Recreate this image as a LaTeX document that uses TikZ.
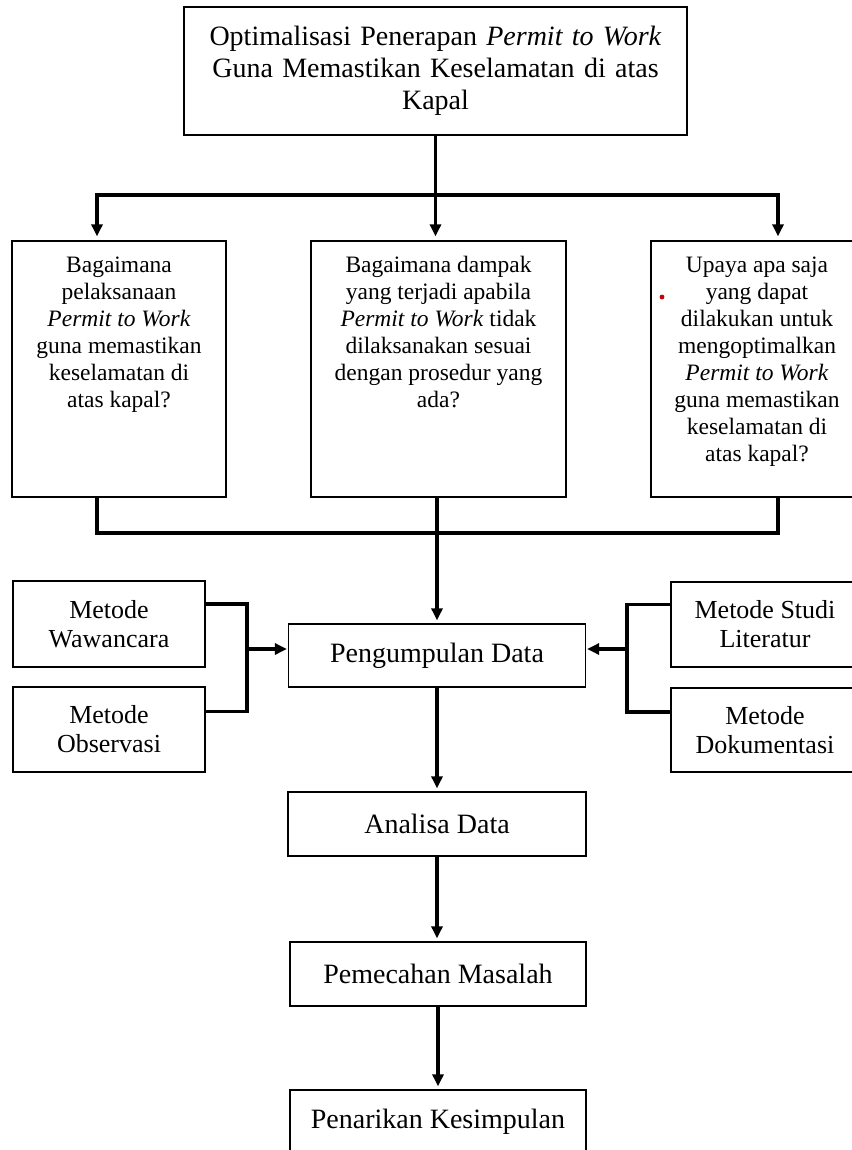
\documentclass[tikz,border=0pt]{standalone}
\usepackage{fontspec}
\setmainfont{Liberation Serif}
\usetikzlibrary{arrows.meta}
\usetikzlibrary{calc}

\tikzset{
  box/.style={draw, line width=1.3pt, inner sep=0pt, align=center},
  qtext/.style={inner sep=0pt, align=center, font=\fontsize{23.5}{27}\selectfont},
  conn/.style={line width=3.2pt, line cap=rect},
  arr/.style={line width=3.2pt, -{Triangle[length=12pt,width=11pt]}},
}

\begin{document}
\begin{tikzpicture}[x=1pt,y=-1pt]
        \useasboundingbox (0,0) rectangle (851,1150);
        % judul
        \node[box, minimum width=503pt, minimum height=128pt, text width=495pt, font=\fontsize{28}{32}\selectfont] (judul) at (435.5,71) {Optimalisasi Penerapan \textit{Permit to Work}\\Guna Memastikan Keselamatan di atas\\Kapal};
        % rumusan masalah
        \node[box, minimum width=214pt, minimum height=256pt] (tanya1) at (119,369) {};
        \node[box, minimum width=255pt, minimum height=256pt] (tanya2) at (438.5,369) {};
        \node[box, minimum width=212pt, minimum height=256pt] (tanya3) at (757,369) {};
        \node[qtext, anchor=north] (teks1) at ($(tanya1.north)+(0,16)$) {Bagaimana\\pelaksanaan\\\textit{Permit to Work}\\guna memastikan\\keselamatan di\\atas kapal?};
        \node[qtext, anchor=north] (teks2) at ($(tanya2.north)+(0,16)$) {Bagaimana dampak\\yang terjadi apabila\\\textit{Permit to Work} tidak\\dilaksanakan sesuai\\dengan prosedur yang\\ada?};
        \node[qtext, anchor=north] (teks3) at ($(tanya3.north)+(0,16)$) {Upaya apa saja\\yang dapat\\dilakukan untuk\\mengoptimalkan\\\textit{Permit to Work}\\guna memastikan\\keselamatan di\\atas kapal?};
        \fill[red!80!black] (662,297) circle (2.4pt);
        % metode
        \node[box, minimum width=192pt, minimum height=86pt, font=\fontsize{26}{29}\selectfont] (wawancara) at (109,624) {Metode\\Wawancara};
        \node[box, minimum width=192pt, minimum height=85pt, font=\fontsize{26}{29}\selectfont] (observasi) at (109,729.5) {Metode\\Observasi};
        \node[box, minimum width=188pt, minimum height=85pt, font=\fontsize{26}{29}\selectfont] (literatur) at (765,624.5) {Metode Studi\\Literatur};
        \node[box, minimum width=188pt, minimum height=84pt, font=\fontsize{26}{29}\selectfont] (dokumentasi) at (765,730) {Metode\\Dokumentasi};
        % alur
        \node[box, minimum width=297pt, minimum height=63pt, font=\fontsize{28}{32}\selectfont] (data) at (437,655.5) {Pengumpulan Data};
        \node[box, minimum width=298pt, minimum height=64pt, font=\fontsize{28}{32}\selectfont] (analisa) at (437,824) {Analisa Data};
        \node[box, minimum width=296pt, minimum height=64pt, font=\fontsize{28}{32}\selectfont] (pemecahan) at (438,974) {Pemecahan Masalah};
        \node[box, minimum width=296pt, minimum height=64pt, font=\fontsize{28}{32}\selectfont] (penarikan) at (438,1122) {Penarikan Kesimpulan};
        % percabangan atas
        \coordinate (kiri) at (97,195);
        \coordinate (kanan) at (778,195);
        \draw[conn] (judul.south) -- (judul.south |- kiri);
        \draw[conn] (kiri) -- (kanan);
        \draw[arr, shorten >=4pt] (kiri) -- (kiri |- tanya1.north);
        \draw[arr, shorten >=4pt] (judul.south |- kiri) -- (judul.south |- tanya2.north);
        \draw[arr, shorten >=4pt] (kanan) -- (kanan |- tanya3.north);
        % penggabungan
        \coordinate (gabkiri) at (97,533);
        \coordinate (gabkanan) at (778,533);
        \draw[conn] (gabkiri |- tanya1.south) -- (gabkiri) -- (gabkanan) -- (gabkanan |- tanya3.south);
        \draw[conn] (data.north |- tanya2.south) -- (data.north |- gabkiri);
        \draw[arr, shorten >=3pt] (data.north |- gabkiri) -- (data.north);
        % cabang metode
        \coordinate (cabkiri) at (247,649);
        \coordinate (cabkanan) at (627,649);
        \draw[conn] ($(wawancara.east)+(0,-20)$) -| (cabkiri) |- ($(observasi.east)+(0,-18)$);
        \draw[arr, shorten >=1pt] (cabkiri) -- (cabkiri -| data.west);
        \draw[conn] ($(literatur.west)+(0,-20)$) -| (cabkanan) |- ($(dokumentasi.west)+(0,-18)$);
        \draw[arr, shorten >=1pt] (cabkanan) -- (cabkanan -| data.east);
        % alur bawah
        \draw[arr, shorten >=3pt] (data.south) -- (data.south |- analisa.north);
        \draw[arr, shorten >=3pt] (analisa.south) -- (analisa.south |- pemecahan.north);
        \draw[arr, shorten >=3pt] (pemecahan.south) -- (pemecahan.south |- penarikan.north);
    \end{tikzpicture}
\end{document}
